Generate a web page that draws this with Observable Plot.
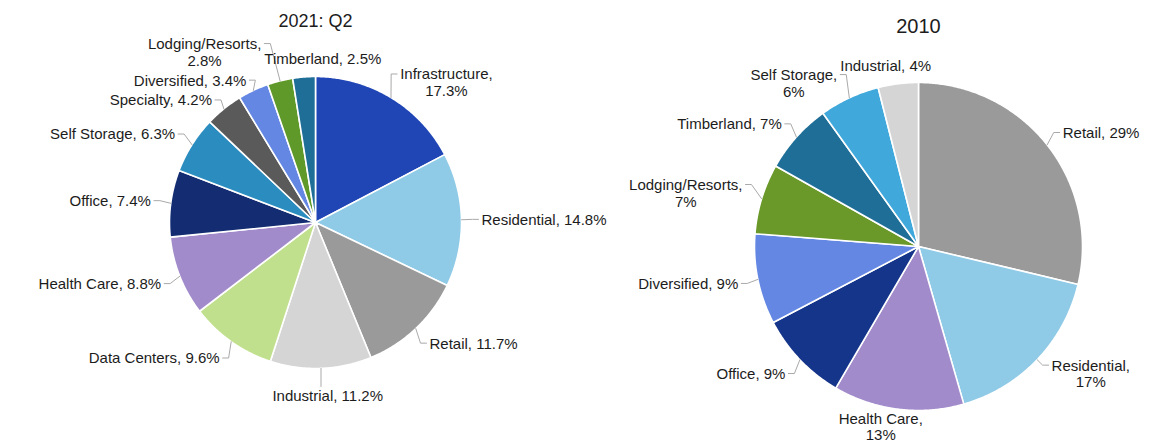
<!DOCTYPE html>
<html><head><meta charset="utf-8">
<script src="https://cdn.jsdelivr.net/npm/d3@7"></script>
<script src="https://cdn.jsdelivr.net/npm/@observablehq/plot@0.6"></script>
<style>
html,body{margin:0;padding:0;background:#fff;}
#wrap{display:flex;width:1164px;height:444px;overflow:hidden;}
</style></head><body><div id="wrap"></div>
<script>
// ---- data: 2021 Q2 ----
const cats2021 = ["Infrastructure","Residential","Retail","Industrial","Data Centers","Health Care","Office","Self Storage","Specialty","Diversified","Lodging/Resorts","Timberland"];
const vals2021 = [17.3,14.8,11.7,11.2,9.6,8.8,7.4,6.3,4.2,3.4,2.8,2.5];
const colors2021 = ["#2046b6","#8fcae7","#9a9a9a","#d5d5d5","#c1e08d","#a28bcb","#132c72","#2b8cbf","#5a5a5a","#6387e3","#5f992a","#1f6e97"];
const wrap2021 = ["Infrastructure","Lodging/Resorts"];
// ---- data: 2010 ----
const cats2010 = ["Retail","Residential","Health Care","Office","Diversified","Lodging/Resorts","Timberland","Self Storage","Industrial"];
const vals2010 = [29,17,13,9,9,7,7,6,4];
const colors2010 = ["#9a9a9a","#8fcae7","#a28bcb","#15358a","#6387e3","#6a992a","#1f6e97","#40a8db","#d5d5d5"];
const wrap2010 = ["Residential","Health Care","Lodging/Resorts","Self Storage"];

const FONT = "'Liberation Sans', Arial, Helvetica, sans-serif";
const FS = 15, LH = 1.12;
const ctx = document.createElement("canvas").getContext("2d");
ctx.font = `${FS}px ${FONT}`;

function drawPie({cats, vals, colors, wrap, title, width, height, cx, cy, r, titleY, titleSize, pad}) {
  const data = cats.map((c, i) => ({cat: c, v: vals[i]}));
  const arcs = d3.pie().sort(null).value(d => d.v)(data);
  // slice outlines in unit coordinates
  const slicePts = [];
  for (const a of arcs) {
    const n = Math.max(2, Math.ceil((a.endAngle - a.startAngle) / (Math.PI / 360)));
    slicePts.push({cat: a.data.cat, x: 0, y: 0});
    for (let i = 0; i <= n; i++) {
      const t = a.startAngle + (a.endAngle - a.startAngle) * i / n;
      slicePts.push({cat: a.data.cat, x: Math.sin(t), y: Math.cos(t)});
    }
    slicePts.push({cat: a.data.cat, x: 0, y: 0});
  }
  // labels, laid out in pixel space relative to the centre (y down)
  const clamp = (v) => Math.max(-1, Math.min(1, v));
  const labels = arcs.map(a => {
    const m = (a.startAngle + a.endAngle) / 2;
    const s = Math.sin(m), c = Math.cos(m);
    const txt = a.data.cat + "," + (wrap.includes(a.data.cat) ? "\n" : " ") + a.data.v + "%";
    const lines = txt.split("\n");
    const w = Math.max(...lines.map(l => ctx.measureText(l).width));
    const h = lines.length * FS * LH;
    const fx = clamp(s / 0.35), fy = clamp(c / 0.35) * (1 - Math.abs(fx));
    const p = pad * (1 - 0.4 * Math.pow(Math.max(0, c), 8));
    const Lx = (r + p) * s, Ly = -(r + p) * c;
    return {txt, w, h, c, ex: r * s, ey: -r * c,
            bx: Lx + fx * w / 2, by: Ly - fy * h / 2};
  });
  const titleBox = {bx: 0, by: titleY - cy, c: 1, w: ctx.measureText(title).width * titleSize / FS, h: titleSize * 1.2, fixed: true};
  const boxes = labels.concat([titleBox]);
  const gap = 3;
  for (let it = 0; it < 500; it++) {
    let moved = false;
    for (let i = 0; i < boxes.length; i++) for (let j = i + 1; j < boxes.length; j++) {
      const A = boxes[i], B = boxes[j];
      const ox = (A.w + B.w) / 2 + gap - Math.abs(A.bx - B.bx);
      const oy = (A.h + B.h) / 2 + gap - Math.abs(A.by - B.by);
      if (ox > 0.01 && oy > 0.01) {
        moved = true;
        const tx = Math.abs((A.c + B.c) / 2);
        const oxe = ox * (1 - 0.75 * tx), oye = oy * (1 - 0.75 * (1 - tx));
        const fa = A.fixed ? 0 : (B.fixed ? 1 : 0.5), fb = 1 - fa;
        if (oxe < oye) {
          const sgn = A.bx < B.bx ? -1 : 1;
          A.bx += sgn * ox * fa; B.bx -= sgn * ox * fb;
        } else {
          const sgn = A.by < B.by ? -1 : 1;
          A.by += sgn * oy * fa; B.by -= sgn * oy * fb;
        }
      }
    }
    // keep labels inside the svg
    for (const L of labels) {
      L.bx = Math.max(2 - cx + L.w / 2, Math.min(width - 2 - cx - L.w / 2, L.bx));
      L.by = Math.max(2 - cy + L.h / 2, Math.min(height - 1 - cy - L.h / 2, L.by));
    }
    if (!moved) break;
  }
  // leader lines
  const leaders = [];
  labels.forEach((L, k) => {
    const l = L.bx - L.w / 2, rr = L.bx + L.w / 2, t = L.by - L.h / 2, b = L.by + L.h / 2;
    const ly = t + FS * LH / 2;
    let pts;
    if (L.ex > rr + 4) pts = [[rr + 3, ly], [rr + 9, ly], [L.ex, L.ey]];
    else if (L.ex < l - 4) pts = [[l - 3, ly], [l - 9, ly], [L.ex, L.ey]];
    else pts = [[L.ex, L.ey > b ? b + 1 : t - 1], [L.ex, L.ey]];
    const d = Math.hypot(pts[0][0] - L.ex, pts[0][1] - L.ey);
    if (d > 10) pts.forEach(p => leaders.push({k, x: p[0] / r, y: -p[1] / r}));
  });
  const textData = labels.map(L => ({txt: L.txt, x: L.bx / r, y: -L.by / r}));

  return Plot.plot({
    width, height, margin: 0,
    x: {domain: [-1, 1], range: [cx - r, cx + r], axis: null},
    y: {domain: [-1, 1], range: [cy + r, cy - r], axis: null},
    color: {domain: cats, range: colors},
    style: {background: "#fff", fontFamily: FONT},
    marks: [
      Plot.line(slicePts, {x: "x", y: "y", z: "cat", fill: "cat", stroke: "#fff", strokeWidth: 1.6, curve: "linear", strokeLinejoin: "round"}),
      Plot.line(leaders, {x: "x", y: "y", z: "k", stroke: "#a9a9a9", strokeWidth: 1}),
      Plot.text(textData, {x: "x", y: "y", text: "txt", fontSize: FS, lineHeight: LH, fill: "#1c1c1c", textAnchor: "middle", lineAnchor: "middle"}),
      Plot.text([title], {x: () => 0, frameAnchor: "top", dy: titleY, text: d => d, fontSize: titleSize, fill: "#1c1c1c", lineAnchor: "middle"})
    ]
  });
}

const wrapEl = document.getElementById("wrap");
wrapEl.append(drawPie({cats: cats2021, vals: vals2021, colors: colors2021, wrap: wrap2021, title: "2021: Q2",
  width: 622, height: 444, cx: 315, cy: 222, r: 146, titleY: 21, titleSize: 18, pad: 20}));
wrapEl.append(drawPie({cats: cats2010, vals: vals2010, colors: colors2010, wrap: wrap2010, title: "2010",
  width: 542, height: 444, cx: 296, cy: 246, r: 164, titleY: 26, titleSize: 20, pad: 20}));
</script>
</body></html>
